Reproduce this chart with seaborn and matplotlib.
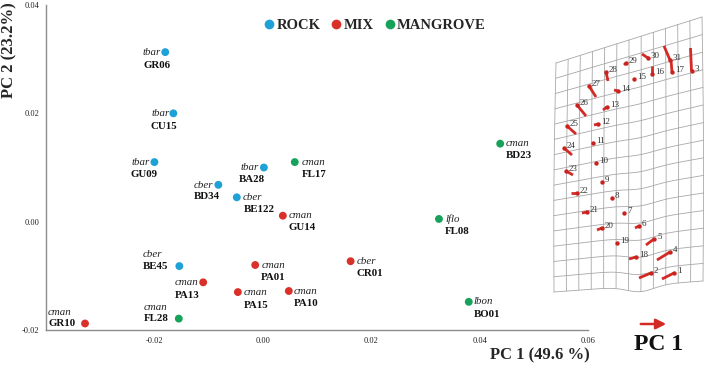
import numpy as np
import pandas as pd
import matplotlib
matplotlib.use("Agg")
import matplotlib.pyplot as plt
from matplotlib.lines import Line2D
import seaborn as sns

# ---------------- data ----------------
codes = ["GR06", "CU15", "GU09", "BA28", "FL17", "BD34", "BE122", "GU14", "BE45", "PA01",
         "PA13", "PA15", "PA10", "FL28", "GR10", "CR01", "FL08", "BO01", "BD23"]
species = ["tbar", "tbar", "tbar", "tbar", "cman", "cber", "cber", "cman", "cber", "cman",
           "cman", "cman", "cman", "cman", "cman", "cber", "lflo", "lbon", "cman"]
habitat = ["ROCK", "ROCK", "ROCK", "ROCK", "MANGROVE", "ROCK", "ROCK", "MIX", "ROCK", "MIX",
           "MIX", "MIX", "MIX", "MANGROVE", "MIX", "MIX", "MANGROVE", "MANGROVE", "MANGROVE"]
pc1 = [-0.0180, -0.0165, -0.0200, 0.0002, 0.0059, -0.0082, -0.0048, 0.0037, -0.0154, -0.0014,
       -0.0110, -0.0046, 0.0048, -0.0155, -0.0328, 0.0162, 0.0325, 0.0380, 0.0438]
pc2 = [0.0313, 0.0200, 0.0110, 0.0100, 0.0110, 0.0068, 0.0045, 0.0011, -0.0082, -0.0080,
       -0.0112, -0.0130, -0.0128, -0.0179, -0.0188, -0.0073, 0.0005, -0.0148, 0.0144]

hue_order = ["ROCK", "MIX", "MANGROVE"]
palette = {"ROCK": "#1DA1D6", "MIX": "#D9302A", "MANGROVE": "#16A25B"}

# landmark deformation picture (image pixel frame)
lm_id = list(range(1, 32))
lm_x = [674, 651, 691.5, 670, 654, 639, 624, 612, 602, 596, 593, 598, 607, 618, 634, 652, 672,
        636, 617, 602, 587, 577, 566, 564, 567, 577, 589, 606, 626, 648, 670]
lm_y = [273, 273, 71, 252, 239, 226, 213, 198, 182, 163, 143, 124, 107, 91, 79, 74, 72,
        257, 243, 228, 212, 193, 171, 148, 126, 105, 86, 72, 63, 58, 60]
tip_x = [662, 639, 690.5, 657, 646, 635, 624, 612, 602, 596, 593, 594, 603, 614, 634, 652, 671,
         629, 617, 597, 582, 571, 573, 572, 576, 586, 596, 608, 624, 642, 664]
tip_y = [279, 278, 48, 260, 245, 228, 213, 198, 182, 163, 143, 125, 110, 90, 79, 66, 60,
         259, 243, 230, 213, 193, 175, 155, 134, 116, 97, 81, 65, 54, 46]

# label placement (pixels): species (ha, dx, dy), code (ha, dx, dy); dy positive = downward
placement = [
    ("right", -4, 0, "right", 5, 13), ("right", -4, 0, "right", 4, 13),
    ("right", -5, 0, "right", 3, 12), ("right", -5, 0, "right", 1, 12),
    ("left", 7, 0, "left", 7, 12), ("right", -5, 1, "right", 2, 12),
    ("left", 6, 0, "left", 7, 12), ("left", 6, 0, "left", 6, 12),
    ("left", -37, -12, "left", -37, 0), ("left", 6, 0, "left", 6, 12),
    ("right", -5, 0, "right", -4, 13), ("left", 6, 0, "left", 6, 13),
    ("left", 5, 0, "left", 5, 13), ("left", -35, -11, "left", -35, 0),
    ("left", -37, -11, "left", -37, 0), ("left", 6, 0, "left", 6, 12),
    ("left", 6, 0, "left", 6, 13), ("left", 5, 0, "left", 5, 13),
    ("left", 5, 0, "left", 6, 12),
]

df = pd.DataFrame({"code": codes, "species": species, "habitat": habitat,
                   "PC1": pc1, "PC2": pc2})

# ---------------- style ----------------
sns.set_style("white")
plt.rcParams["font.family"] = ["Liberation Serif", "DejaVu Serif"]

W, H = 709, 365
fig = plt.figure(figsize=(W / 100, H / 100), dpi=100)
L, R, T, B = 46, 588, 5, 330
ax = fig.add_axes([L / W, 1 - B / H, (R - L) / W, (B - T) / H])

sns.scatterplot(data=df, x="PC1", y="PC2", hue="habitat", hue_order=hue_order,
                palette=palette, s=32, linewidth=0, legend=False, ax=ax, zorder=3)

ax.set_xlim(-0.04, 0.06)
ax.set_ylim(-0.02, 0.04)
ax.set_xticks([-0.02, 0.0, 0.02, 0.04, 0.06])
ax.set_yticks([-0.02, 0.0, 0.02, 0.04])
ax.xaxis.set_major_formatter(matplotlib.ticker.FormatStrFormatter("%.2f"))
ax.yaxis.set_major_formatter(matplotlib.ticker.FormatStrFormatter("%.2f"))
ax.tick_params(axis="both", labelsize=6, colors="#555555", length=3, width=0.8,
               direction="out", pad=2, labelcolor="#222222")
ax.tick_params(axis="x", pad=2)
for s in ["top", "right"]:
    ax.spines[s].set_visible(False)
for s in ["left", "bottom"]:
    ax.spines[s].set_color("#8C8C8C")
    ax.spines[s].set_linewidth(1.0)

ax.set_xlabel("PC 1 (49.6 %)", fontsize=12, fontweight="bold", loc="right")
ax.xaxis.set_label_coords((590 - L) / (R - L), (B - 355) / (B - T))
ax.xaxis.label.set_va("center")
ax.set_ylabel("PC 2 (23.2%)", fontsize=12, fontweight="bold")
ax.yaxis.set_label_coords((9 - L) / (R - L), (B - 50) / (B - T))
ax.yaxis.label.set_va("center")

# point labels
for i in range(len(codes)):
    sha, sdx, sdy, cha, cdx, cdy = placement[i]
    ax.annotate(species[i], (pc1[i], pc2[i]), xytext=(sdx, -sdy), textcoords="offset pixels",
                ha=sha, va="center", fontsize=7.8, fontstyle="italic", color="#222222")
    ax.annotate(codes[i], (pc1[i], pc2[i]), xytext=(cdx, -cdy), textcoords="offset pixels",
                ha=cha, va="center", fontsize=7.8, fontweight="bold", color="#111111")

# legend
handles = [Line2D([0], [0], marker="o", linestyle="", markersize=7,
                  markerfacecolor=palette[h], markeredgewidth=0) for h in hue_order]
leg = ax.legend(handles, hue_order, loc="center",
                bbox_to_anchor=((375 - L) / (R - L), (B - 25) / (B - T)),
                ncol=3, frameon=False, handlelength=0.7, handletextpad=0.15,
                columnspacing=0.75, prop={"weight": "bold", "size": 10.5})

# ---------------- deformation grid overlay ----------------
ov = fig.add_axes([0, 0, 1, 1], zorder=5)
ov.set_xlim(0, W)
ov.set_ylim(H, 0)
ov.axis("off")
ov.patch.set_visible(False)

TL, TR = np.array([556.0, 63.0]), np.array([702.0, 17.0])
BL, BR = np.array([554.0, 292.0]), np.array([703.0, 281.0])
ncols, nrows = 12, 15


def warp(u, v):
    top = (1 - u)[..., None] * TL + u[..., None] * TR
    bot = (1 - u)[..., None] * BL + u[..., None] * BR
    p = (1 - v)[..., None] * top + v[..., None] * bot
    bump = 6.0 * np.exp(-((u - 0.58) / 0.13) ** 2) * v ** 1.5
    p[..., 1] += bump
    p[..., 0] += 2.0 * np.sin(np.pi * v) * (u - 0.5)
    return p


t = np.linspace(0, 1, 80)
for j in range(nrows + 1):
    v = np.full_like(t, j / nrows)
    p = warp(t, v)
    ov.plot(p[:, 0], p[:, 1], color="#A8A8A8", lw=0.6, zorder=1)
for i in range(ncols + 1):
    u = np.full_like(t, i / ncols)
    p = warp(u, t)
    ov.plot(p[:, 0], p[:, 1], color="#A8A8A8", lw=0.6, zorder=1)

for k in range(len(lm_id)):
    ov.plot([lm_x[k], tip_x[k]], [lm_y[k], tip_y[k]], color="#D42A25", lw=2.0,
            solid_capstyle="butt", zorder=3)
ov.scatter(lm_x, lm_y, s=10, color="#C8231F", linewidth=0, zorder=4)
for k in range(len(lm_id)):
    ov.text(lm_x[k] + 3, lm_y[k] - 2, str(lm_id[k]), fontsize=6.5, color="#333333",
            ha="left", va="center", zorder=5)

ov.annotate("", xy=(669, 324), xytext=(638, 324),
            arrowprops=dict(arrowstyle="-|>,head_length=0.6,head_width=0.3",
                            color="#D42A25", lw=1.8))
ov.text(659, 345, "PC 1", fontsize=17, fontweight="bold", ha="center", va="center",
        color="#111111")

fig.savefig("out.png", dpi=100)
